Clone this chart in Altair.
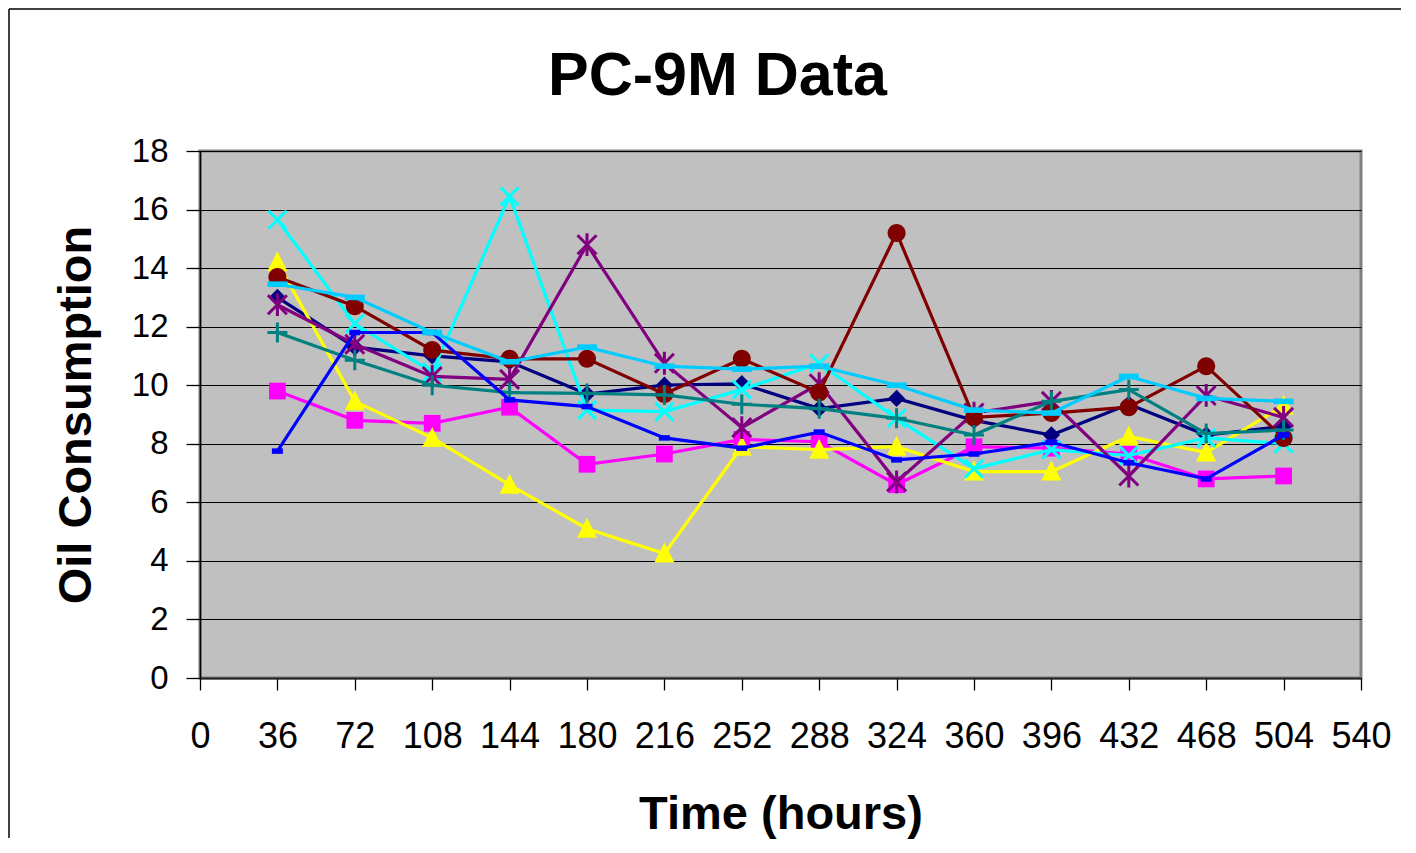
import altair as alt
import pandas as pd

# ---- data ----
hours = [36, 72, 108, 144, 180, 216, 252, 288, 324, 360, 396, 432, 468, 504]

series_names = ["Series 1", "Series 2", "Series 3", "Series 4", "Series 5",
                "Series 6", "Series 7", "Series 8", "Series 9"]

s1 = [13.0, 11.3, 11.0, 10.8, 9.7, 10.0, 10.05, 9.2, 9.55, 8.8, 8.3, 9.35, 8.3, 8.6]
s2 = [9.8, 8.8, 8.7, 9.25, 7.3, 7.65, 8.15, 8.07, 6.6, 7.9, 7.85, 7.65, 6.8, 6.9]
s3 = [14.2, 9.45, 8.2, 6.6, 5.1, 4.25, 7.9, 7.8, 7.9, 7.05, 7.05, 8.25, 7.7, 9.3]
s4 = [15.65, 12.1, 10.45, 16.45, 9.15, 9.1, 9.85, 10.75, 8.87, 7.15, 7.8, 7.6, 8.2, 8.0]
s5 = [12.75, 11.4, 10.3, 10.2, 14.8, 10.75, 8.55, 10.05, 6.7, 9.05, 9.45, 6.9, 9.65, 8.9]
s6 = [13.7, 12.7, 11.2, 10.9, 10.9, 9.7, 10.9, 9.75, 15.2, 8.9, 9.05, 9.25, 10.65, 8.2]
s7 = [11.8, 10.85, 10.0, 9.75, 9.72, 9.67, 9.35, 9.2, 8.87, 8.3, 9.45, 9.85, 8.35, 8.47]
s8 = [7.75, 11.8, 11.8, 9.5, 9.27, 8.2, 7.85, 8.4, 7.45, 7.65, 8.05, 7.35, 6.8, 8.3]
s9 = [13.45, 13.0, 11.8, 10.8, 11.3, 10.65, 10.55, 10.65, 10.0, 9.15, 9.05, 10.3, 9.55, 9.45]

series_values = [s1, s2, s3, s4, s5, s6, s7, s8, s9]

x_ticks = list(range(0, 541, 36))
y_ticks = list(range(0, 19, 2))

# ---- styles ----
colors = ["#000080", "#FF00FF", "#FFFF00", "#00FFFF", "#800080",
          "#800000", "#008080", "#0000FF", "#00CCFF"]
marker_paths = [
    "M0,-1L1,0L0,1L-1,0Z",                                  # diamond
    "M-1,-1L1,-1L1,1L-1,1Z",                                # square
    "M0,-1.1L1,0.9L-1,0.9Z",                                # triangle
    "M-1,-1L1,1M-1,1L1,-1",                                 # x
    "M-1,-1L1,1M-1,1L1,-1M0,-1.2L0,1.2",                    # star
    "M1,0A1,1,0,1,1,-1,0A1,1,0,1,1,1,0Z",                   # circle
    "M-1,0L1,0M0,-1L0,1",                                   # plus
    "M-1,-0.5L1,-0.5L1,0.5L-1,0.5Z",                        # short dash
    "M-1,-0.28L1,-0.28L1,0.28L-1,0.28Z",                    # long dash
]
marker_sizes = [300, 280, 400, 324, 361, 324, 400, 121, 400]
marker_filled = [True, True, True, False, False, True, False, True, True]

rows = []
for name, vals in zip(series_names, series_values):
    for h, v in zip(hours, vals):
        rows.append({"series": name, "hours": h, "value": v})
df = pd.DataFrame(rows)

FONT = "Liberation Sans"
W, H = 1161, 527

x_enc = alt.X(
    "hours:Q",
    scale=alt.Scale(domain=[0, 540], nice=False, zero=False),
    axis=alt.Axis(
        values=x_ticks, grid=False, title="Time (hours)",
        labelFont=FONT, labelFontSize=36, labelColor="black", labelPadding=29,
        labelFlush=False, labelOverlap=False,
        tickSize=12, tickColor="black", tickWidth=1.3,
        domainColor="#222222", domainWidth=2,
        titleFont=FONT, titleFontSize=47, titleFontWeight="bold", titleColor="black",
        titleX=W / 2, titleY=150, titleBaseline="alphabetic", titleAlign="center",
    ),
)
y_enc = alt.Y(
    "value:Q",
    scale=alt.Scale(domain=[0, 18], nice=False, zero=True),
    axis=alt.Axis(
        values=y_ticks, grid=True, gridColor="black", gridWidth=1.2,
        title="Oil Consumption",
        labelFont=FONT, labelFontSize=33, labelColor="black", labelPadding=18,
        labelFlush=False, labelOverlap=False,
        tickSize=14, tickColor="black", tickWidth=1.3,
        domainColor="black", domainWidth=1.5,
        titleFont=FONT, titleFontSize=47, titleFontWeight="bold", titleColor="black",
        titleAngle=270, titleX=-110, titleY=H / 2, titleBaseline="alphabetic",
        titleAlign="center",
    ),
)

layers = []
for i, name in enumerate(series_names):
    base = alt.Chart(df).transform_filter(alt.datum.series == name)
    line = base.mark_line(color=colors[i], strokeWidth=3.2).encode(x=x_enc, y=y_enc)
    if marker_filled[i]:
        pts = base.mark_point(shape=marker_paths[i], size=marker_sizes[i], filled=True,
                              color=colors[i], opacity=1, strokeWidth=0)
    else:
        pts = base.mark_point(shape=marker_paths[i], size=marker_sizes[i], filled=False,
                              color=colors[i], opacity=1, strokeWidth=3)
    pts = pts.encode(x=x_enc, y=y_enc)
    layers += [line, pts]

# outer chart frame: only its top and left edges fall inside the reference picture
frame_df = pd.DataFrame({"f": [0]})
frame_top = alt.Chart(frame_df).mark_rule(color="black", strokeWidth=1.5).encode(
    x=alt.value(-191), x2=alt.value(W + 40), y=alt.value(-142))
frame_left = alt.Chart(frame_df).mark_rule(color="black", strokeWidth=1.5).encode(
    x=alt.value(-191), y=alt.value(-142), y2=alt.value(H + 160))

chart = alt.layer(frame_top, frame_left, *layers).properties(
    width=W, height=H,
    title=alt.TitleParams(
        text="PC-9M Data", font=FONT, fontSize=61, fontWeight="bold", color="black",
        anchor="middle", frame="group", dx=-63, baseline="alphabetic", dy=148, offset=0,
    ),
    autosize=alt.AutoSizeParams(type="none"),
    padding={"left": 192, "top": 143, "right": 47, "bottom": 167},
).configure(
    background="white"
).configure_view(
    fill="#C0C0C0", stroke="#808080", strokeWidth=3
)

chart.save("out.html", embed_options={"renderer": "svg", "actions": False})
